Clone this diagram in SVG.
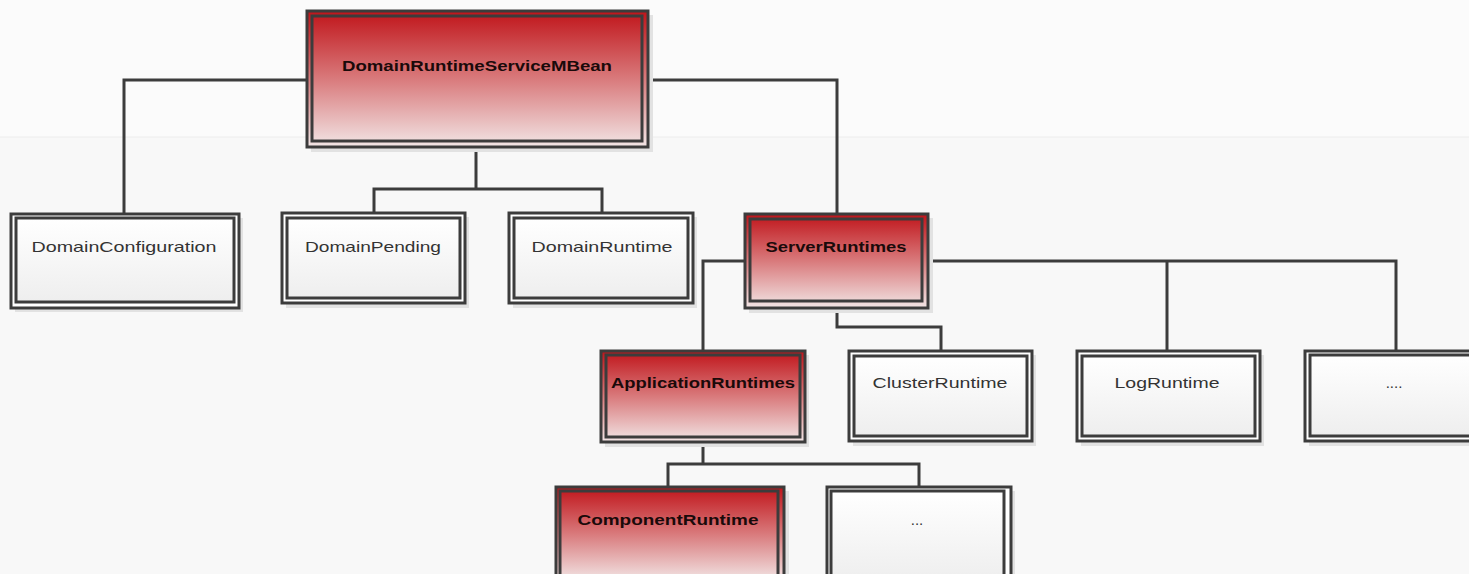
<svg xmlns="http://www.w3.org/2000/svg" width="1469" height="574" viewBox="0 0 1469 574">
<defs>
<linearGradient id="red" x1="0" y1="0" x2="0" y2="1">
<stop offset="0" stop-color="#c0141a"/>
<stop offset="0.5" stop-color="#d97a7c"/>
<stop offset="1" stop-color="#f2e6e6"/>
</linearGradient>
<linearGradient id="wht" x1="0" y1="0" x2="0" y2="1">
<stop offset="0" stop-color="#ffffff"/>
<stop offset="1" stop-color="#eeeeee"/>
</linearGradient>
</defs>
<style>
.sh{fill:#e2e2e2}
.o{stroke:#3c3c3c;stroke-width:3}
.i{fill:none;stroke:#3c3c3c;stroke-width:3}
.r{fill:url(#red)}
.w{fill:url(#wht)}
.wo{fill:#ffffff}
text{font-family:"Liberation Sans",Arial,sans-serif;font-size:15px;text-anchor:middle}
.b{font-weight:bold;fill:#1a0a0a}
.n{fill:#333333}
.c{fill:none;stroke:#3c3c3c;stroke-width:3}
</style>
<rect x="0" y="0" width="1469" height="574" fill="#f8f8f8"/>
<rect x="0" y="0" width="1469" height="137" fill="#fbfbfb"/>
<line x1="0" y1="137" x2="1469" y2="137" stroke="#ececec" stroke-width="1"/>
<g id="connectors">
<path class="c" d="M306,80 H124 V213"/>
<path class="c" d="M648,80 H837 V213"/>
<path class="c" d="M476,147 V189 M374,213 V189 H602 V213"/>
<path class="c" d="M744,261 H703 V351"/>
<path class="c" d="M928,261 H1396 V350 M1167,261 V350"/>
<path class="c" d="M837,308 V327 H941 V350"/>
<path class="c" d="M703,442 V464 M668,487 V464 H919 V487"/>
</g>
<g id="n-domainruntimeservicembean">
<rect class="sh" x="311" y="15" width="342" height="137"/>
<rect class="o r" x="307" y="11" width="341" height="136"/>
<rect class="i" x="312" y="16" width="330" height="125"/>
<text class="b" x="477" y="71" textLength="270" lengthAdjust="spacingAndGlyphs">DomainRuntimeServiceMBean</text>
</g>
<g id="n-domainconfiguration">
<rect class="sh" x="15" y="218" width="228" height="94"/>
<rect class="o wo" x="11" y="214" width="228" height="94"/>
<rect class="i w" x="16" y="218" width="218" height="84"/>
<text class="n" x="124" y="252" textLength="185" lengthAdjust="spacingAndGlyphs">DomainConfiguration</text>
</g>
<g id="n-domainpending">
<rect class="sh" x="286" y="217" width="183" height="91"/>
<rect class="o wo" x="282" y="213" width="183" height="90"/>
<rect class="i w" x="287" y="218" width="173" height="80"/>
<text class="n" x="373" y="252" textLength="136" lengthAdjust="spacingAndGlyphs">DomainPending</text>
</g>
<g id="n-domainruntime">
<rect class="sh" x="513" y="217" width="184" height="91"/>
<rect class="o wo" x="509" y="213" width="184" height="90"/>
<rect class="i w" x="514" y="218" width="174" height="80"/>
<text class="n" x="602" y="252" textLength="141" lengthAdjust="spacingAndGlyphs">DomainRuntime</text>
</g>
<g id="n-serverruntimes">
<rect class="sh" x="749" y="218" width="184" height="95"/>
<rect class="o r" x="745" y="214" width="183" height="94"/>
<rect class="i" x="750" y="219" width="172" height="82"/>
<text class="b" x="836" y="252" textLength="141" lengthAdjust="spacingAndGlyphs">ServerRuntimes</text>
</g>
<g id="n-applicationruntimes">
<rect class="sh" x="605" y="355" width="204" height="92"/>
<rect class="o r" x="601" y="351" width="204" height="91"/>
<rect class="i" x="606" y="355" width="194" height="82"/>
<text class="b" x="703" y="388" textLength="184" lengthAdjust="spacingAndGlyphs">ApplicationRuntimes</text>
</g>
<g id="n-clusterruntime">
<rect class="sh" x="853" y="355" width="183" height="91"/>
<rect class="o wo" x="849" y="351" width="183" height="90"/>
<rect class="i w" x="854" y="356" width="173" height="80"/>
<text class="n" x="940" y="388" textLength="135" lengthAdjust="spacingAndGlyphs">ClusterRuntime</text>
</g>
<g id="n-logruntime">
<rect class="sh" x="1081" y="355" width="183" height="91"/>
<rect class="o wo" x="1077" y="351" width="183" height="90"/>
<rect class="i w" x="1082" y="356" width="173" height="80"/>
<text class="n" x="1167" y="388" textLength="105" lengthAdjust="spacingAndGlyphs">LogRuntime</text>
</g>
<g id="n-more1">
<rect class="sh" x="1309" y="355" width="183" height="91"/>
<rect class="o wo" x="1305" y="351" width="183" height="90"/>
<rect class="i w" x="1310" y="355" width="173" height="81"/>
<text class="n" x="1394" y="388">....</text>
</g>
<g id="n-componentruntime">
<rect class="sh" x="560" y="491" width="229" height="95"/>
<rect class="o r" x="556" y="487" width="228" height="94"/>
<rect class="i" x="560" y="491" width="218" height="90"/>
<text class="b" x="668" y="525" textLength="181" lengthAdjust="spacingAndGlyphs">ComponentRuntime</text>
</g>
<g id="n-more2">
<rect class="sh" x="831" y="491" width="184" height="95"/>
<rect class="o wo" x="827" y="487" width="184" height="94"/>
<rect class="i w" x="831" y="491" width="173" height="90"/>
<text class="n" x="917" y="525">...</text>
</g>
</svg>
